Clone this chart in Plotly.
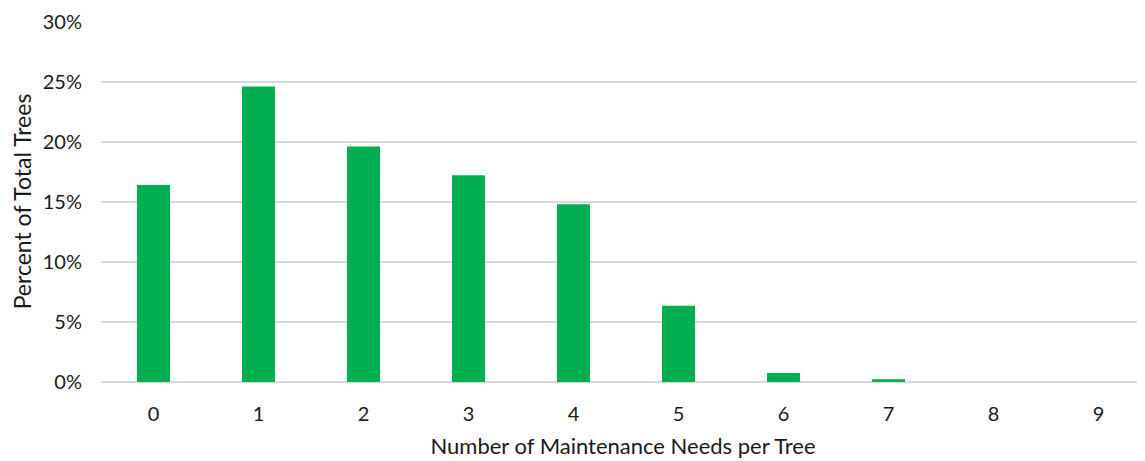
import plotly.graph_objects as go

categories = ["0", "1", "2", "3", "4", "5", "6", "7", "8", "9"]
percent_values = [16.4, 24.6, 19.6, 17.2, 14.8, 6.35, 0.75, 0.22, 0.0, 0.0]
y_ticks = [0, 5, 10, 15, 20, 25, 30]
y_tick_labels = ["0%", "5%", "10%", "15%", "20%", "25%", "30%"]

FONT = "Lato, 'Open Sans', sans-serif"

fig = go.Figure(go.Bar(
    x=list(range(len(categories))),
    y=percent_values,
    marker=dict(color="#00B050", line=dict(width=0)),
    hoverinfo="x+y",
))

fig.update_layout(
    width=1137, height=453,
    margin=dict(l=93, r=0, t=13, b=79, autoexpand=False),
    paper_bgcolor="white", plot_bgcolor="white",
    bargap=0.686,
    showlegend=False,
    font=dict(family=FONT, size=20, color="#1a1a1a"),
)
fig.update_xaxes(
    tickmode="array", tickvals=list(range(len(categories))), ticktext=categories,
    range=[-0.5, 9.443], showgrid=False, zeroline=False, showline=False,
    ticks="", ticklen=0, automargin=False, ticklabelstandoff=18,
    title=dict(text="Number of Maintenance Needs per Tree", font=dict(size=22, family=FONT), standoff=14),
    tickfont=dict(size=20, family=FONT),
)
fig.update_yaxes(
    tickmode="array", tickvals=y_ticks, ticktext=y_tick_labels,
    range=[0, 30.05], showgrid=True, gridcolor="#D9D9D9", gridwidth=1.5,
    zeroline=True, zerolinecolor="#D9D9D9", zerolinewidth=1.5,
    showline=False, ticks="", ticklen=0, automargin=False, ticklabelstandoff=18,
    title=dict(text="Percent of Total Trees", font=dict(size=23, family=FONT), standoff=14),
    tickfont=dict(size=20, family=FONT),
)

fig.write_html("out.html")
